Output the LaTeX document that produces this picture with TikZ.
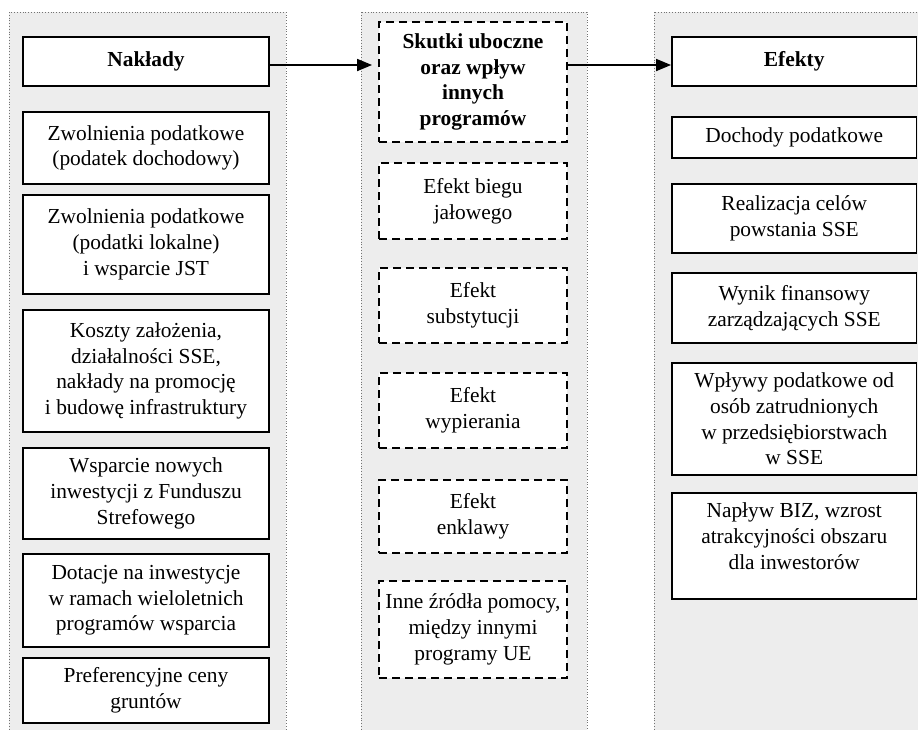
\documentclass[tikz,border=0pt]{standalone}
\usepackage{fontspec}
\setmainfont{Liberation Serif}
\usetikzlibrary{arrows.meta,calc}
\begin{document}
\begin{tikzpicture}[x=1pt,y=-1pt,
  column/.style={fill=black!7,draw=black!55,dotted,line width=0.8pt},
  box/.style={draw,line width=1.9pt,fill=white,align=center,inner sep=0pt,
    font=\fontsize{21.4}{25.7}\selectfont},
  lbox/.style={box,minimum width=246pt},
  mbox/.style={box,minimum width=188pt,dash pattern=on 8pt off 5pt},
  rbox/.style={box,minimum width=244.5pt},
  conn/.style={line width=1.8pt,-{Triangle[length=15pt,width=12pt]}}]
\useasboundingbox (0,0) rectangle (918,729);
\clip (0,0) rectangle (918,729);
\fill[white] (0,0) rectangle (918,729);
% columns
\draw[column] (9,12) rectangle (286,760);
\draw[column] (361,12) rectangle (587,760);
\draw[column] (654,12) rectangle (950,760);
% left column
\node[lbox,minimum height=49pt] (nak) at (146,61.5) {\textbf{Nakłady}};
\node[lbox,minimum height=72pt] (z1) at (146,148) {Zwolnienia podatkowe\\(podatek dochodowy)};
\node[lbox,minimum height=99pt] (z2) at (146,244.5) {Zwolnienia podatkowe\\(podatki lokalne)\\i wsparcie JST};
\node[lbox,minimum height=122pt] (kos) at (146,371) {Koszty założenia,\\działalności SSE,\\nakłady na promocję\\i budowę infrastruktury};
\node[lbox,minimum height=91pt] (wsp) at (146,493.5) {Wsparcie nowych\\inwestycji z Funduszu\\Strefowego};
\node[lbox,minimum height=93pt] (dot) at (146,600.5) {Dotacje na inwestycje\\w ramach wieloletnich\\programów wsparcia};
\node[lbox,minimum height=65pt] (pref) at (146,690.5) {Preferencyjne ceny\\gruntów};
% middle column
\node[mbox,minimum height=120pt] (sku) at (473,82) {\textbf{Skutki uboczne}\\\textbf{oraz wpływ}\\\textbf{innych}\\\textbf{programów}};
\node[mbox,minimum height=76pt] (bieg) at (473,201) {Efekt biegu\\jałowego};
\node[mbox,minimum height=75pt] (sub) at (473,305.5) {Efekt\\substytucji};
\node[mbox,minimum height=75pt] (wyp) at (473,410.5) {Efekt\\wypierania};
\node[mbox,minimum height=73pt] (enk) at (473,516.5) {Efekt\\enklawy};
\node[mbox,minimum height=97pt] (inne) at (473,629.5) {Inne źródła pomocy,\\między innymi\\programy UE};
% right column
\node[rbox,minimum height=49pt] (efe) at (794.25,61.5) {\textbf{Efekty}};
\node[rbox,minimum height=41pt] (doch) at (794.25,137.5) {Dochody podatkowe};
\node[rbox,minimum height=69pt] (real) at (794.25,218.5) {Realizacja celów\\powstania SSE};
\node[rbox,minimum height=70pt] (wyn) at (794.25,308) {Wynik finansowy\\zarządzających SSE};
\node[rbox,minimum height=112pt] (wpl) at (794.25,419) {Wpływy podatkowe od\\osób zatrudnionych\\w przedsiębiorstwach\\w SSE};
\node[rbox,minimum height=106pt] (nap) at (794.25,546) {Napływ BIZ, wzrost\\atrakcyjności obszaru\\dla inwestorów\\[-6pt]\mbox{}};
% connectors
\coordinate (ay) at (0,65);
\draw[conn,shorten >=6pt] (nak.east |- ay) -- (sku.west |- ay);
\draw[conn] (sku.east |- ay) -- (efe.west |- ay);
\end{tikzpicture}
\end{document}
